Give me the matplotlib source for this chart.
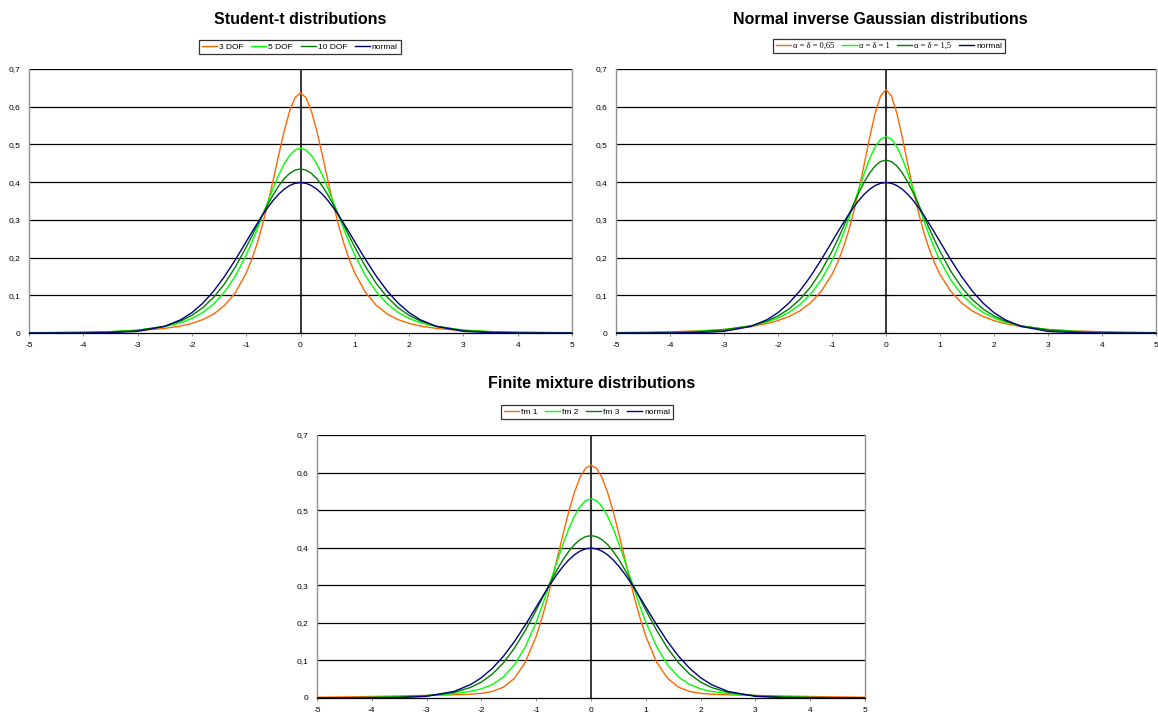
import matplotlib
matplotlib.use("Agg")
import matplotlib.pyplot as plt

# ---------------- data ----------------
x = [-5, -4.5, -4, -3.5, -3, -2.5, -2.2, -2, -1.8, -1.6, -1.4, -1.2, -1, -0.9, -0.8, -0.7, -0.6,
     -0.5, -0.4, -0.3, -0.2, -0.1, 0, 0.1, 0.2, 0.3, 0.4, 0.5, 0.6, 0.7, 0.8, 0.9, 1, 1.2, 1.4,
     1.6, 1.8, 2, 2.2, 2.5, 3, 3.5, 4, 4.5, 5]

t3 = [0.0009, 0.0014, 0.0022, 0.0036, 0.0064, 0.0121, 0.0187, 0.0255, 0.0354, 0.0502, 0.0727, 0.1069,
      0.1592, 0.1943, 0.2367, 0.2868, 0.3442, 0.4074, 0.4731, 0.5358, 0.5886, 0.6241, 0.6366, 0.6241,
      0.5886, 0.5358, 0.4731, 0.4074, 0.3442, 0.2868, 0.2367, 0.1943, 0.1592, 0.1069, 0.0727, 0.0502,
      0.0354, 0.0255, 0.0187, 0.0121, 0.0064, 0.0036, 0.0022, 0.0014, 0.0009]
t5 = [0.0006, 0.0011, 0.0019, 0.0037, 0.0077, 0.0167, 0.0275, 0.0386, 0.0545, 0.0770, 0.1084, 0.1512,
      0.2067, 0.2392, 0.2744, 0.3113, 0.3488, 0.3855, 0.4193, 0.4485, 0.4710, 0.4852, 0.4901, 0.4852,
      0.4710, 0.4485, 0.4193, 0.3855, 0.3488, 0.3113, 0.2744, 0.2392, 0.2067, 0.1512, 0.1084, 0.0770,
      0.0545, 0.0386, 0.0275, 0.0167, 0.0077, 0.0037, 0.0019, 0.0011, 0.0006]
t10 = [0.0002, 0.0004, 0.0010, 0.0026, 0.0069, 0.0182, 0.0322, 0.0468, 0.0670, 0.0945, 0.1303, 0.1751,
       0.2276, 0.2559, 0.2849, 0.3137, 0.3415, 0.3673, 0.3901, 0.4091, 0.4233, 0.4321, 0.4350, 0.4321,
       0.4233, 0.4091, 0.3901, 0.3673, 0.3415, 0.3137, 0.2849, 0.2559, 0.2276, 0.1751, 0.1303, 0.0945,
       0.0670, 0.0468, 0.0322, 0.0182, 0.0069, 0.0026, 0.0010, 0.0004, 0.0002]
normal = [0.0000, 0.0000, 0.0001, 0.0009, 0.0044, 0.0175, 0.0355, 0.0540, 0.0790, 0.1109, 0.1497, 0.1942,
          0.2420, 0.2661, 0.2897, 0.3123, 0.3332, 0.3521, 0.3683, 0.3814, 0.3910, 0.3970, 0.3989, 0.3970,
          0.3910, 0.3814, 0.3683, 0.3521, 0.3332, 0.3123, 0.2897, 0.2661, 0.2420, 0.1942, 0.1497, 0.1109,
          0.0790, 0.0540, 0.0355, 0.0175, 0.0044, 0.0009, 0.0001, 0.0000, 0.0000]
nig065 = [0.0012, 0.0019, 0.0032, 0.0054, 0.0094, 0.0171, 0.0251, 0.0329, 0.0435, 0.0584, 0.0796, 0.1103,
          0.1555, 0.1858, 0.2226, 0.2671, 0.3201, 0.3816, 0.4498, 0.5200, 0.5835, 0.6287, 0.6453, 0.6287,
          0.5835, 0.5200, 0.4498, 0.3816, 0.3201, 0.2671, 0.2226, 0.1858, 0.1555, 0.1103, 0.0796, 0.0584,
          0.0435, 0.0329, 0.0251, 0.0171, 0.0094, 0.0054, 0.0032, 0.0019, 0.0012]
nig1 = [0.0006, 0.0012, 0.0023, 0.0045, 0.0091, 0.0187, 0.0294, 0.0399, 0.0544, 0.0745, 0.1024, 0.1406,
        0.1922, 0.2238, 0.2592, 0.2983, 0.3401, 0.3831, 0.4252, 0.4632, 0.4939, 0.5139, 0.5208, 0.5139,
        0.4939, 0.4632, 0.4252, 0.3831, 0.3401, 0.2983, 0.2592, 0.2238, 0.1922, 0.1406, 0.1024, 0.0745,
        0.0544, 0.0399, 0.0294, 0.0187, 0.0091, 0.0045, 0.0023, 0.0012, 0.0006]
nig15 = [0.0002, 0.0006, 0.0014, 0.0033, 0.0079, 0.0190, 0.0321, 0.0452, 0.0634, 0.0882, 0.1212, 0.1638,
         0.2165, 0.2462, 0.2776, 0.3098, 0.3420, 0.3728, 0.4009, 0.4248, 0.4431, 0.4546, 0.4585, 0.4546,
         0.4431, 0.4248, 0.4009, 0.3728, 0.3420, 0.3098, 0.2776, 0.2462, 0.2165, 0.1638, 0.1212, 0.0882,
         0.0634, 0.0452, 0.0321, 0.0190, 0.0079, 0.0033, 0.0014, 0.0006, 0.0002]
fm1 = [0.0020, 0.0029, 0.0040, 0.0053, 0.0068, 0.0085, 0.0101, 0.0124, 0.0174, 0.0287, 0.0519, 0.0947,
       0.1644, 0.2102, 0.2628, 0.3206, 0.3814, 0.4421, 0.4990, 0.5485, 0.5869, 0.6113, 0.6196, 0.6113,
       0.5869, 0.5485, 0.4990, 0.4421, 0.3814, 0.3206, 0.2628, 0.2102, 0.1644, 0.0947, 0.0519, 0.0287,
       0.0174, 0.0124, 0.0101, 0.0085, 0.0068, 0.0053, 0.0040, 0.0029, 0.0020]
fm2 = [0.0003, 0.0007, 0.0016, 0.0034, 0.0065, 0.0117, 0.0175, 0.0243, 0.0359, 0.0557, 0.0877, 0.1359,
       0.2022, 0.2414, 0.2837, 0.3277, 0.3718, 0.4141, 0.4525, 0.4849, 0.5096, 0.5250, 0.5303, 0.5250,
       0.5096, 0.4849, 0.4525, 0.4141, 0.3718, 0.3277, 0.2837, 0.2414, 0.2022, 0.1359, 0.0877, 0.0557,
       0.0359, 0.0243, 0.0175, 0.0117, 0.0065, 0.0034, 0.0016, 0.0007, 0.0003]
fm3 = [0.0002, 0.0006, 0.0013, 0.0027, 0.0059, 0.0149, 0.0279, 0.0424, 0.0637, 0.0932, 0.1320, 0.1796,
       0.2340, 0.2627, 0.2914, 0.3194, 0.3460, 0.3703, 0.3914, 0.4088, 0.4216, 0.4295, 0.4322, 0.4295,
       0.4216, 0.4088, 0.3914, 0.3703, 0.3460, 0.3194, 0.2914, 0.2627, 0.2340, 0.1796, 0.1320, 0.0932,
       0.0637, 0.0424, 0.0279, 0.0149, 0.0059, 0.0027, 0.0013, 0.0006, 0.0002]

titles = ["Student-t distributions", "Normal inverse Gaussian distributions", "Finite mixture distributions"]
labels_t = ["3 DOF", "5 DOF", "10 DOF", "normal"]
labels_nig = ["α = δ = 0,65", "α = δ = 1", "α = δ = 1,5", "normal"]
labels_fm = ["fm 1", "fm 2", "fm 3", "normal"]
xticks = [-5, -4, -3, -2, -1, 0, 1, 2, 3, 4, 5]
yticks = [0, 0.1, 0.2, 0.3, 0.4, 0.5, 0.6, 0.7]
yticklabels = ["0", "0,1", "0,2", "0,3", "0,4", "0,5", "0,6", "0,7"]

colors = ["#FF6600", "#00FF00", "#008000", "#000080"]

plt.rcParams["font.family"] = ["Liberation Sans", "DejaVu Sans"]

W, H = 1158, 714
fig = plt.figure(figsize=(W / 100, H / 100), dpi=100)


def px_axes(x0, x1, y0, y1):
    # x0,x1: pixel of x=-5 and x=5; y0: pixel of y=0 ; y1: pixel of y=0.7
    return fig.add_axes([x0 / W, 1 - y0 / H, (x1 - x0) / W, (y0 - y1) / H])


def setup(ax, series, labels, title, title_xy, leg_xy, serif_idx=()):
    for s, lab, c in zip(series, labels, colors):
        ax.plot(x, s, color=c, lw=1.0, label=lab, zorder=3)
    ax.set_xlim(-5, 5)
    ax.set_ylim(0, 0.7)
    ax.set_xticks(xticks)
    ax.set_xticklabels([str(v) for v in xticks], fontsize=6)
    ax.set_yticks(yticks)
    ax.set_yticklabels(yticklabels, fontsize=6)
    ax.tick_params(axis="y", length=0, pad=6)
    ax.tick_params(axis="x", length=2.5, width=0.6, color="#808080", direction="out", pad=4)
    for yv in yticks[1:]:
        ax.axhline(yv, color="black", lw=0.9, zorder=1)
    ax.axvline(0, color="black", lw=1.1, zorder=2)
    ax.plot([0] * len(yticks), yticks, ls="none", marker="_", ms=4, mew=0.8, color="black", zorder=2)
    ax.spines["top"].set_visible(False)
    ax.spines["left"].set_color("#909090")
    ax.spines["right"].set_color("#909090")
    ax.spines["left"].set_linewidth(1.0)
    ax.spines["right"].set_linewidth(1.0)
    ax.spines["bottom"].set_color("black")
    ax.spines["bottom"].set_linewidth(0.9)
    fig.text(title_xy[0] / W, 1 - title_xy[1] / H, title, ha="center", va="center",
             fontsize=11.5, fontweight="bold")
    leg = fig.legend(*ax.get_legend_handles_labels(), loc="center",
                     bbox_to_anchor=(leg_xy[0] / W, 1 - leg_xy[1] / H), ncol=4, fontsize=6,
                     frameon=True, fancybox=False, edgecolor="black", handlelength=1.8,
                     handletextpad=0.25, columnspacing=0.9, borderpad=0.35, borderaxespad=0)
    leg.get_frame().set_linewidth(0.9)
    for i in serif_idx:
        leg.get_texts()[i].set_family(["Liberation Serif", "DejaVu Serif"])
    return ax


ax1 = px_axes(29, 572, 333, 69)
setup(ax1, [t3, t5, t10, normal], labels_t, titles[0], (300, 20), (300, 47))
ax2 = px_axes(616, 1156, 333, 69)
setup(ax2, [nig065, nig1, nig15, normal], labels_nig, titles[1], (880, 20), (889, 46), serif_idx=(0, 1, 2))
ax3 = px_axes(317, 865, 698, 435)
setup(ax3, [fm1, fm2, fm3, normal], labels_fm, titles[2], (592, 384), (587, 412))

fig.savefig("out.png", dpi=100, facecolor="white")
